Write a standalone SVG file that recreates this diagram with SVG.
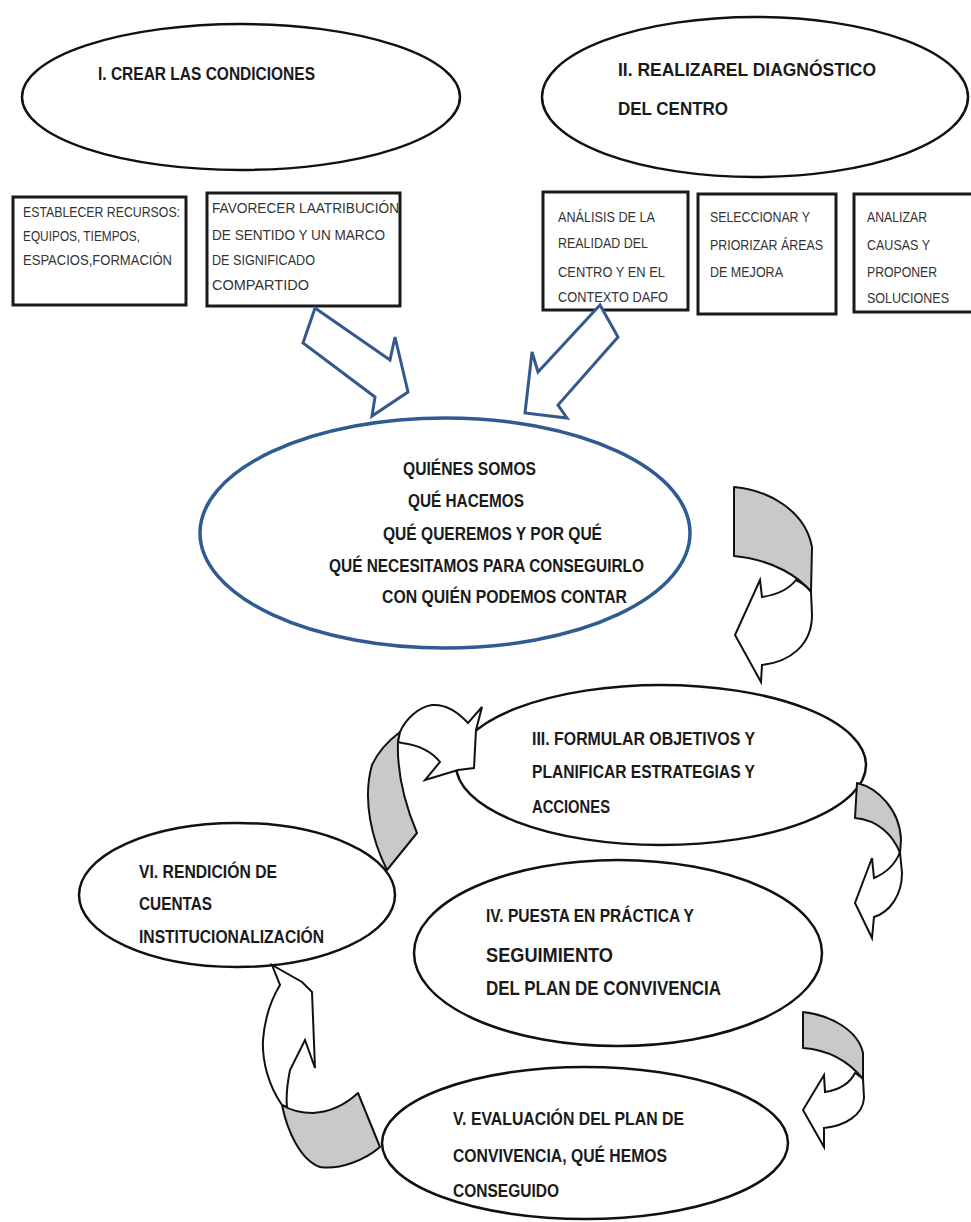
<svg xmlns="http://www.w3.org/2000/svg" width="971" height="1222" viewBox="0 0 971 1222">
<style>
.bg{fill:#ffffff}
.el{fill:#ffffff;stroke:#111;stroke-width:2.5}
.elb{fill:#ffffff;stroke:#2f5b93;stroke-width:3.5}
.box{fill:#ffffff;stroke:#1a1a1a;stroke-width:3}
.t{font-family:"Liberation Sans",Arial,sans-serif;font-weight:bold;fill:#1a1a1a}
.t19{font-size:19px}
.t21{font-size:21px}
.tc{font-size:18px}
.bt{font-family:"Liberation Sans",Arial,sans-serif;font-size:14px;fill:#333}
.blue{fill:#ffffff;stroke:#35598a;stroke-width:3;stroke-linejoin:miter}
.grey{fill:#c9c9c9;stroke:#111;stroke-width:2;stroke-linejoin:round}
.wh{fill:#ffffff;stroke:#111;stroke-width:2;stroke-linejoin:miter}
</style>
<rect class="bg" x="0" y="0" width="971" height="1222"/>

<g id="node-crear">
<ellipse class="el" cx="241" cy="97" rx="219" ry="73"/>
<text class="t t19" x="98" y="80" textLength="217" lengthAdjust="spacingAndGlyphs">I. CREAR  LAS CONDICIONES</text>
</g>

<g id="node-diagnostico">
<ellipse class="el" cx="755" cy="97" rx="213" ry="80"/>
<text class="t t19" x="618" y="76" textLength="258" lengthAdjust="spacingAndGlyphs">II. REALIZAREL  DIAGNÓSTICO</text>
<text class="t t19" x="618" y="115" textLength="110" lengthAdjust="spacingAndGlyphs">DEL CENTRO</text>
</g>

<g id="node-recursos">
<rect class="box" x="13" y="197" width="173" height="108"/>
<text class="bt" x="23" y="217" textLength="157" lengthAdjust="spacingAndGlyphs">ESTABLECER RECURSOS:</text>
<text class="bt" x="23" y="241" textLength="117" lengthAdjust="spacingAndGlyphs">EQUIPOS, TIEMPOS,</text>
<text class="bt" x="23" y="265" textLength="149" lengthAdjust="spacingAndGlyphs">ESPACIOS,FORMACIÓN</text>
</g>

<g id="node-favorecer">
<rect class="box" x="207" y="193" width="193" height="113"/>
<text class="bt" x="212" y="213" textLength="187" lengthAdjust="spacingAndGlyphs">FAVORECER LAATRIBUCIÓN</text>
<text class="bt" x="212" y="240" textLength="173" lengthAdjust="spacingAndGlyphs">DE SENTIDO Y UN MARCO</text>
<text class="bt" x="212" y="265" textLength="103" lengthAdjust="spacingAndGlyphs">DE SIGNIFICADO</text>
<text class="bt" x="212" y="290" textLength="97" lengthAdjust="spacingAndGlyphs">COMPARTIDO</text>
</g>

<g id="node-analisis">
<rect class="box" x="543" y="192" width="145" height="118"/>
<text class="bt" x="558" y="222" textLength="97" lengthAdjust="spacingAndGlyphs">ANÁLISIS DE LA</text>
<text class="bt" x="558" y="248" textLength="90" lengthAdjust="spacingAndGlyphs">REALIDAD DEL</text>
<text class="bt" x="558" y="277" textLength="107" lengthAdjust="spacingAndGlyphs">CENTRO Y  EN EL</text>
<text class="bt" x="558" y="302" textLength="110" lengthAdjust="spacingAndGlyphs">CONTEXTO DAFO</text>
</g>

<g id="node-seleccionar">
<rect class="box" x="698" y="194" width="138" height="120"/>
<text class="bt" x="710" y="222" textLength="100" lengthAdjust="spacingAndGlyphs">SELECCIONAR Y</text>
<text class="bt" x="710" y="250" textLength="113" lengthAdjust="spacingAndGlyphs">PRIORIZAR ÁREAS</text>
<text class="bt" x="710" y="277" textLength="73" lengthAdjust="spacingAndGlyphs">DE MEJORA</text>
</g>

<g id="node-causas">
<rect class="box" x="854" y="194" width="125" height="118"/>
<text class="bt" x="867" y="222" textLength="60" lengthAdjust="spacingAndGlyphs">ANALIZAR</text>
<text class="bt" x="867" y="250" textLength="63" lengthAdjust="spacingAndGlyphs">CAUSAS  Y</text>
<text class="bt" x="867" y="277" textLength="70" lengthAdjust="spacingAndGlyphs">PROPONER</text>
<text class="bt" x="867" y="303" textLength="82" lengthAdjust="spacingAndGlyphs">SOLUCIONES</text>
</g>

<g id="node-centro">
<ellipse class="elb" cx="445" cy="533" rx="245" ry="115"/>
<text class="t tc" x="403" y="475" textLength="133" lengthAdjust="spacingAndGlyphs">QUIÉNES SOMOS</text>
<text class="t tc" x="408" y="507" textLength="116" lengthAdjust="spacingAndGlyphs">QUÉ HACEMOS</text>
<text class="t tc" x="383" y="540" textLength="219" lengthAdjust="spacingAndGlyphs">QUÉ QUEREMOS Y POR QUÉ</text>
<text class="t tc" x="329" y="572" textLength="315" lengthAdjust="spacingAndGlyphs">QUÉ NECESITAMOS PARA CONSEGUIRLO</text>
<text class="t tc" x="382" y="603" textLength="245" lengthAdjust="spacingAndGlyphs">CON QUIÉN PODEMOS CONTAR</text>
</g>

<g id="node-formular">
<ellipse class="el" cx="661" cy="765" rx="205" ry="80"/>
<text class="t t19" x="532" y="745" textLength="223" lengthAdjust="spacingAndGlyphs">III. FORMULAR  OBJETIVOS Y</text>
<text class="t t19" x="532" y="778" textLength="223" lengthAdjust="spacingAndGlyphs">PLANIFICAR   ESTRATEGIAS Y</text>
<text class="t t19" x="532" y="813" textLength="78" lengthAdjust="spacingAndGlyphs">ACCIONES</text>
</g>

<g id="node-puesta">
<ellipse class="el" cx="618" cy="953" rx="204" ry="93"/>
<text class="t t19" x="486" y="922" textLength="208" lengthAdjust="spacingAndGlyphs">IV. PUESTA  EN PRÁCTICA Y</text>
<text class="t t21" x="486" y="962" textLength="127" lengthAdjust="spacingAndGlyphs">SEGUIMIENTO</text>
<text class="t t21" x="486" y="995" textLength="235" lengthAdjust="spacingAndGlyphs">DEL PLAN DE CONVIVENCIA</text>
</g>

<g id="node-evaluacion">
<ellipse class="el" cx="585" cy="1143" rx="203" ry="76"/>
<text class="t t19" x="453" y="1125" textLength="231" lengthAdjust="spacingAndGlyphs">V. EVALUACIÓN  DEL PLAN DE</text>
<text class="t t19" x="453" y="1162" textLength="214" lengthAdjust="spacingAndGlyphs">CONVIVENCIA, QUÉ HEMOS</text>
<text class="t t19" x="453" y="1197" textLength="106" lengthAdjust="spacingAndGlyphs">CONSEGUIDO</text>
</g>

<g id="node-rendicion">
<ellipse class="el" cx="237" cy="895" rx="158" ry="72"/>
<text class="t t19" x="139" y="878" textLength="138" lengthAdjust="spacingAndGlyphs">VI. RENDICIÓN DE</text>
<text class="t t19" x="139" y="910" textLength="73" lengthAdjust="spacingAndGlyphs">CUENTAS</text>
<text class="t t19" x="139" y="943" textLength="185" lengthAdjust="spacingAndGlyphs">INSTITUCIONALIZACIÓN</text>
</g>

<g id="connectors">
<!-- block arrows into centre -->
<path class="blue" d="M315,308 L390,360 L395,337 L408,392 L372,416 L375,397 L303,343 Z"/>
<path class="blue" d="M600,305 L618,337 L558,405 L567,418 L525,413 L532,352 L538,372 Z"/>
<!-- centre -> III -->
<path class="grey" d="M734,487 C768,490 805,510 812,547 L811,592 C800,578 775,560 734,556 Z"/>
<path class="wh" d="M796,580 C802,583 807,586 811,592 L812,615 C812,645 790,662 762,665 L761,682 L735,635 L760,580 L762,597 C776,595 788,590 796,580 Z"/>
<!-- III -> IV -->
<path class="grey" d="M857,783 C878,788 900,810 901,840 L900,853 C893,835 878,820 855,818 Z"/>
<path class="wh" d="M900,852 L902,873 C902,895 890,912 874,917 L872,938 L855,903 L872,858 L874,878 C886,873 895,865 900,852 Z"/>
<!-- IV -> V -->
<path class="grey" d="M803,1012 C830,1015 858,1030 863,1053 L863,1079 C850,1063 830,1050 803,1048 Z"/>
<path class="wh" d="M855,1073 C858,1075 861,1077 863,1079 L864,1098 C863,1115 845,1126 824,1128 L824,1147 L803,1110 L824,1075 L825,1092 C838,1090 849,1085 855,1073 Z"/>
<!-- V -> VI -->
<path class="grey" d="M282,1105 C287,1130 300,1160 320,1167 C340,1170 365,1160 380,1147 L358,1093 C345,1105 330,1112 313,1113 C300,1113 290,1110 282,1105 Z"/>
<path class="wh" d="M282,1105 C268,1085 262,1060 263,1040 C265,1015 272,998 280,985 L272,965 L302,982 L312,992 L315,1068 L305,1040 L290,1070 C287,1085 286,1097 287,1107 Z"/>
<!-- VI -> III -->
<path class="grey" d="M387,870 C372,840 362,800 372,765 C378,752 388,741 400,732 L398,742 C397,770 403,800 417,833 Z"/>
<path class="wh" d="M400,732 C405,720 418,707 432,705 C445,704 458,712 468,723 L482,707 L476,730 L474,768 L458,770 L425,780 L440,762 C432,752 418,745 402,743 L398,742 Z"/>
</g>
</svg>
